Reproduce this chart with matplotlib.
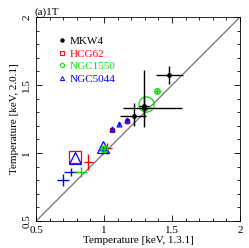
import matplotlib
matplotlib.use('Agg')
import matplotlib.pyplot as plt
from matplotlib.lines import Line2D
from matplotlib.ticker import MultipleLocator

plt.rcParams['font.family'] = ['Liberation Serif', 'DejaVu Serif']

# MKW4 (black)
mkw4_x = [1.48, 1.294, 1.294, 1.22]
mkw4_y = [1.574, 1.331, 1.346, 1.276]
mkw4_xlo = [0.10, 0.155, 0.04, 0.10]
mkw4_xhi = [0.10, 0.28, 0.04, 0.09]
mkw4_ylo = [0.065, 0.14, 0.07, 0.08]
mkw4_yhi = [0.065, 0.28, 0.07, 0.09]

# HCG62 (red)
hcg_x = [0.787, 0.885, 1.02, 1.056, 1.167]
hcg_y = [0.973, 0.936, 1.035, 1.169, 1.232]
hcg_xerr = [0.0, 0.035, 0.035, 0.01, 0.012]
hcg_yerr = [0.0, 0.06, 0.04, 0.015, 0.015]
hcg_ms = [9, 0, 0, 3.5, 3.5]

# NGC1550 (green)
n1550_x = [1.307, 1.39, 0.829, 1.0]
n1550_y = [1.36, 1.456, 0.862, 1.03]
n1550_xerr = [0.0, 0.02, 0.045, 0.02]
n1550_yerr = [0.0, 0.02, 0.035, 0.02]
n1550_ms = [11, 4, 0, 5]

# NGC5044 (blue)
n5044_x = [0.787, 0.99, 0.696, 0.757, 1.056, 1.11, 1.171, 0.99]
n5044_y = [0.963, 1.042, 0.801, 0.86, 1.178, 1.21, 1.245, 1.02]
n5044_xerr = [0.0, 0.0, 0.045, 0.05, 0.008, 0.008, 0.008, 0.03]
n5044_yerr = [0.0, 0.0, 0.045, 0.03, 0.012, 0.012, 0.012, 0.03]
n5044_ms = [8, 8, 0, 0, 3.5, 3.5, 3.5, 0]

ticks = [0.5, 1, 1.5, 2]
tick_labels = ['0.5', '1', '1.5', '2']

fig = plt.figure(figsize=(2.49, 2.48), dpi=100)
ax = fig.add_axes([0.145, 0.109, 0.819, 0.822])

ax.plot([0.5, 2], [0.5, 2], color='0.45', lw=0.9, zorder=1)

ax.errorbar(mkw4_x, mkw4_y, xerr=[mkw4_xlo, mkw4_xhi], yerr=[mkw4_ylo, mkw4_yhi],
            fmt='o', color='black', ms=2.5, elinewidth=1.0, capsize=0, zorder=3)

def group(xs, ys, xe, ye, ms, color, marker):
    for x, y, dx, dy, m in zip(xs, ys, xe, ye, ms):
        if dx > 0 or dy > 0:
            ax.errorbar([x], [y], xerr=[dx], yerr=[dy], fmt='none', ecolor=color,
                        elinewidth=1.0, capsize=0, zorder=2)
        if m > 0:
            ax.plot([x], [y], marker=marker, ms=m, mfc='none', mec=color,
                    mew=0.9, ls='none', zorder=2)

group(hcg_x, hcg_y, hcg_xerr, hcg_yerr, hcg_ms, 'red', 's')
group(n5044_x, n5044_y, n5044_xerr, n5044_yerr, n5044_ms, 'blue', '^')
group(n1550_x, n1550_y, n1550_xerr, n1550_yerr, n1550_ms, '#00e000', 'o')

ax.set_xlim(0.5, 2)
ax.set_ylim(0.5, 2)
ax.set_xticks(ticks)
ax.set_yticks(ticks)
ax.set_xticklabels(tick_labels)
ax.set_yticklabels(tick_labels, rotation=90, va='center')
ax.xaxis.set_minor_locator(MultipleLocator(0.1))
ax.yaxis.set_minor_locator(MultipleLocator(0.1))
ax.tick_params(which='both', direction='in', top=True, right=True, labelsize=8)
ax.tick_params(which='major', length=4, width=0.6)
ax.tick_params(which='minor', length=2, width=0.6)
for s in ax.spines.values():
    s.set_linewidth(0.6)

ax.set_xlabel('Temperature [keV, 1.3.1]', fontsize=8, labelpad=1)
ax.set_ylabel('Temperature [keV, 2.0.1]', fontsize=8, labelpad=2)
ax.set_title('(a)1T', fontsize=8, loc='left', pad=2, x=-0.01)

handles = [
    Line2D([], [], marker='o', color='black', ms=2.2, ls='none', label='MKW4'),
    Line2D([], [], marker='s', mfc='none', mec='red', color='red', ms=3, mew=0.7, ls='none', label='HCG62'),
    Line2D([], [], marker='o', mfc='none', mec='#00e000', color='#00e000', ms=3, mew=0.7, ls='none', label='NGC1550'),
    Line2D([], [], marker='^', mfc='none', mec='blue', color='blue', ms=3, mew=0.7, ls='none', label='NGC5044'),
]
ax.legend(handles=handles, loc='upper left', frameon=False, fontsize=8, labelcolor='linecolor',
          handletextpad=0.1, handlelength=1.2, labelspacing=0.25, borderaxespad=0.6,
          bbox_to_anchor=(0.04, 0.96))

fig.savefig('out.png', dpi=100)
